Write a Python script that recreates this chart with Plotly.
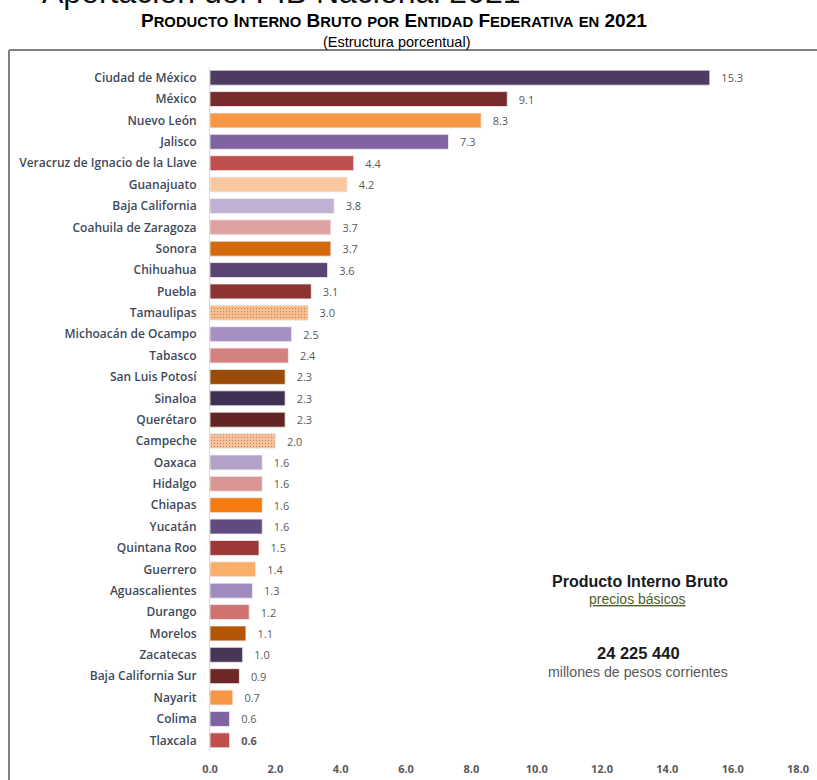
import plotly.graph_objects as go

estados = ["Ciudad de México", "México", "Nuevo León", "Jalisco", "Veracruz de Ignacio de la Llave",
           "Guanajuato", "Baja California", "Coahuila de Zaragoza", "Sonora", "Chihuahua", "Puebla",
           "Tamaulipas", "Michoacán de Ocampo", "Tabasco", "San Luis Potosí", "Sinaloa", "Querétaro",
           "Campeche", "Oaxaca", "Hidalgo", "Chiapas", "Yucatán", "Quintana Roo", "Guerrero",
           "Aguascalientes", "Durango", "Morelos", "Zacatecas", "Baja California Sur", "Nayarit",
           "Colima", "Tlaxcala"]
porcentaje = [15.3, 9.1, 8.3, 7.3, 4.4, 4.2, 3.8, 3.7, 3.7, 3.6, 3.1, 3.0, 2.5, 2.4, 2.3, 2.3, 2.3,
              2.0, 1.6, 1.6, 1.6, 1.6, 1.5, 1.4, 1.3, 1.2, 1.1, 1.0, 0.9, 0.7, 0.6, 0.6]
colores = ["#4E3B62", "#772B2C", "#F79646", "#8064A2", "#C0504D", "#FAC89E", "#BFB1D4", "#DDA2A1",
           "#D6690C", "#594474", "#8B3432", "#F9BC8A", "#A58FC3", "#D48280", "#9A4A09", "#3E3052",
           "#632523", "#FAC09A", "#B3A2C8", "#D99694", "#F57A10", "#604A7F", "#9E3836", "#F9AE6C",
           "#A08BBF", "#CF7270", "#B35707", "#473656", "#6E2727", "#F79646", "#8064A2", "#C0504D"]
punteado = [False] * 11 + [True] + [False] * 5 + [True] + [False] * 14
xticks = [0, 2, 4, 6, 8, 10, 12, 14, 16, 18]

textos = ["\u00a0\u00a0\u00a0" + f"{v:.1f}" for v in porcentaje]
textos[-1] = "\u00a0\u00a0\u00a0<b>" + f"{porcentaje[-1]:.1f}" + "</b>"

W, H = 817, 780
L, R, T, B = 210, 798, 67, 751


def xp(px):
    return (px - L) / (R - L)


def yp(py):
    return (B - py) / (B - T)


fig = go.Figure(go.Bar(
    x=porcentaje, y=estados, orientation="h",
    marker=dict(color=colores, line=dict(color="rgba(240,240,240,0.8)", width=1),
                pattern=dict(shape=["." if p else "" for p in punteado],
                             bgcolor=colores,
                             fgcolor=["#F0AC7C" if p else c for p, c in zip(punteado, colores)],
                             size=3, solidity=0.12)),
    text=textos, textposition="outside", cliponaxis=False,
    textfont=dict(family="Open Sans", size=11, color="#595959"),
    width=0.7,
))

big = 19
small = 14.8


def sc(word, first_big=True):
    if first_big:
        return (f"<span style='font-size:{big}px'>{word[0]}</span>"
                f"<span style='font-size:{small}px'>{word[1:]}</span>")
    return f"<span style='font-size:{small}px'>{word}</span>"


titulo = " ".join([sc("PRODUCTO"), sc("INTERNO"), sc("BRUTO"), sc("POR", False), sc("ENTIDAD"),
                   sc("FEDERATIVA"), sc("EN", False), f"<span style='font-size:{big}px'>2021</span>"])

annotations = [
    dict(text="Aportación del PIB Nacional 2021", x=xp(40), y=yp(12), xanchor="left", yanchor="bottom",
         font=dict(family="Liberation Sans, Arial", size=32, color="#111111")),
    dict(text="<b>" + titulo + "</b>", x=xp(394), y=yp(20), xanchor="center", yanchor="middle",
         font=dict(family="Liberation Sans, Arial", size=big, color="#000000")),
    dict(text="(Estructura porcentual)", x=xp(396), y=yp(42), xanchor="center", yanchor="middle",
         font=dict(family="Liberation Sans, Arial", size=14.5, color="#000000")),
    dict(text="<b>Producto Interno Bruto</b>", x=xp(640), y=yp(581), xanchor="center", yanchor="middle",
         font=dict(family="Liberation Sans, Arial", size=16, color="#1A1A1A")),
    dict(text="<u>precios básicos</u>", x=xp(637), y=yp(599), xanchor="center", yanchor="middle",
         font=dict(family="Liberation Sans, Arial", size=14, color="#4F6228")),
    dict(text="<b>24 225 440</b>", x=xp(638), y=yp(653), xanchor="center", yanchor="middle",
         font=dict(family="Liberation Sans, Arial", size=16.5, color="#1A1A1A")),
    dict(text="millones de pesos corrientes", x=xp(638), y=yp(672), xanchor="center", yanchor="middle",
         font=dict(family="Liberation Sans, Arial", size=14.2, color="#595959")),
]
for a in annotations:
    a.update(xref="paper", yref="paper", showarrow=False)

shapes = [
    dict(type="line", xref="paper", yref="paper", x0=xp(9), x1=xp(830), y0=yp(50), y1=yp(50),
         line=dict(color="#808080", width=2)),
    dict(type="line", xref="paper", yref="paper", x0=xp(9), x1=xp(9), y0=yp(50), y1=yp(800),
         line=dict(color="#808080", width=2)),
]

fig.update_layout(
    width=W, height=H,
    margin=dict(l=L, r=W - R, t=T, b=H - B, autoexpand=False),
    plot_bgcolor="white", paper_bgcolor="white",
    showlegend=False,
    bargap=0.3,
    annotations=annotations,
    shapes=shapes,
    xaxis=dict(range=[0, 18], tickvals=xticks, tickformat=".1f", showgrid=False, zeroline=False,
               showline=False, ticks="", ticklabelstandoff=10, automargin=False,
               tickfont=dict(family="Open Sans", size=11, color="#595959", weight="bold")),
    yaxis=dict(autorange="reversed", showgrid=False, zeroline=False, showline=True,
               linecolor="#D9D9D9", linewidth=1, ticks="", ticklabelstandoff=10, automargin=False,
               tickfont=dict(family="Open Sans", size=12, color="#404A5A", weight=600)),
)

fig.write_html("out.html")
